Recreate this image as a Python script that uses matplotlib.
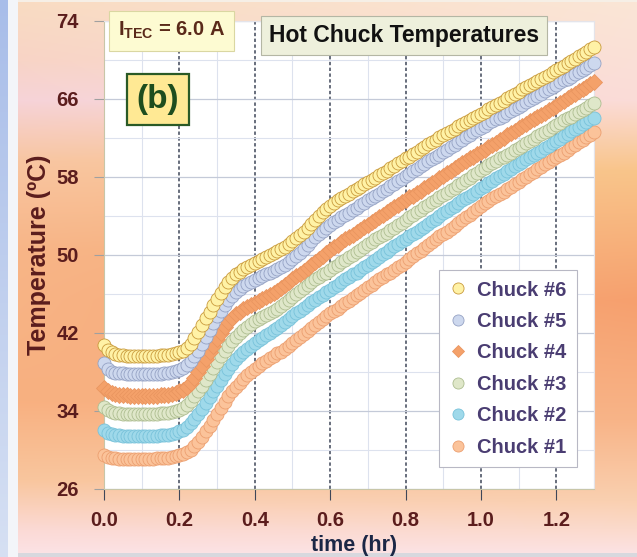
import numpy as np
import matplotlib
matplotlib.use("Agg")
import matplotlib.pyplot as plt
from matplotlib.colors import to_rgb

plt.rcParams['font.family'] = ['Liberation Sans', 'DejaVu Sans']
plt.rcParams['mathtext.fontset'] = 'custom'
plt.rcParams['mathtext.rm'] = 'Liberation Sans:bold'
plt.rcParams['mathtext.bf'] = 'Liberation Sans:bold'

# sample times (hr), one reading every 0.01 hr
time_hr = np.round(np.linspace(0.0, 1.3, 131), 2)

chuck6 = [40.8, 40.3, 40.0, 39.8, 39.7, 39.7, 39.6, 39.6, 39.6, 39.6,
          39.6, 39.6, 39.6, 39.6, 39.6, 39.7, 39.7, 39.7, 39.8, 39.9,
          40.0, 40.2, 40.5, 40.9, 41.5, 42.1, 42.8, 43.5, 44.2, 44.9,
          45.5, 46.1, 46.7, 47.2, 47.6, 48.0, 48.3, 48.6, 48.8, 49.0,
          49.2, 49.4, 49.6, 49.8, 50.0, 50.2, 50.4, 50.6, 50.8, 51.1,
          51.4, 51.7, 52.0, 52.4, 52.8, 53.2, 53.6, 54.0, 54.4, 54.7,
          55.0, 55.3, 55.6, 55.8, 56.1, 56.3, 56.6, 56.8, 57.0, 57.3,
          57.5, 57.7, 57.9, 58.2, 58.4, 58.6, 58.9, 59.1, 59.4, 59.6,
          59.9, 60.1, 60.4, 60.6, 60.9, 61.1, 61.4, 61.6, 61.8, 62.1,
          62.3, 62.5, 62.7, 62.9, 63.2, 63.4, 63.6, 63.8, 64.1, 64.3,
          64.5, 64.7, 65.0, 65.2, 65.4, 65.6, 65.8, 66.1, 66.3, 66.5,
          66.7, 67.0, 67.2, 67.4, 67.6, 67.8, 68.1, 68.3, 68.5, 68.8,
          69.0, 69.2, 69.4, 69.7, 69.9, 70.1, 70.4, 70.6, 70.8, 71.1,
          71.3]

chuck5 = [38.9, 38.3, 38.0, 37.9, 37.9, 37.9, 37.8, 37.8, 37.8, 37.8,
          37.8, 37.8, 37.8, 37.8, 37.8, 37.8, 37.9, 37.9, 38.0, 38.1,
          38.2, 38.4, 38.7, 39.1, 39.6, 40.2, 40.9, 41.6, 42.3, 43.0,
          43.7, 44.3, 44.9, 45.4, 45.8, 46.2, 46.5, 46.8, 47.0, 47.2,
          47.4, 47.6, 47.8, 48.0, 48.2, 48.4, 48.6, 48.8, 49.0, 49.3,
          49.6, 49.9, 50.2, 50.6, 51.0, 51.4, 51.8, 52.2, 52.5, 52.8,
          53.1, 53.4, 53.6, 53.9, 54.1, 54.3, 54.6, 54.8, 55.1, 55.3,
          55.6, 55.8, 56.1, 56.3, 56.6, 56.8, 57.1, 57.3, 57.6, 57.8,
          58.1, 58.3, 58.6, 58.8, 59.1, 59.3, 59.6, 59.8, 60.1, 60.3,
          60.6, 60.8, 61.1, 61.3, 61.6, 61.8, 62.1, 62.3, 62.6, 62.8,
          63.0, 63.2, 63.5, 63.7, 63.9, 64.1, 64.3, 64.6, 64.8, 65.0,
          65.2, 65.4, 65.7, 65.9, 66.1, 66.3, 66.5, 66.8, 67.0, 67.2,
          67.4, 67.7, 67.9, 68.1, 68.3, 68.6, 68.8, 69.0, 69.2, 69.5,
          69.7]

chuck4 = [36.4, 36.0, 35.8, 35.7, 35.6, 35.6, 35.6, 35.5, 35.5, 35.5,
          35.5, 35.5, 35.5, 35.5, 35.5, 35.6, 35.6, 35.6, 35.7, 35.8,
          36.0, 36.2, 36.5, 36.9, 37.4, 38.0, 38.6, 39.3, 40.0, 40.7,
          41.4, 42.0, 42.6, 43.1, 43.5, 43.9, 44.2, 44.5, 44.7, 44.9,
          45.1, 45.3, 45.5, 45.7, 45.9, 46.1, 46.3, 46.6, 46.9, 47.2,
          47.5, 47.8, 48.1, 48.4, 48.7, 49.0, 49.3, 49.6, 49.9, 50.2,
          50.5, 50.8, 51.0, 51.3, 51.6, 51.8, 52.1, 52.4, 52.6, 52.9,
          53.1, 53.4, 53.6, 53.9, 54.1, 54.4, 54.6, 54.9, 55.1, 55.4,
          55.6, 55.9, 56.1, 56.4, 56.6, 56.9, 57.1, 57.4, 57.6, 57.9,
          58.1, 58.4, 58.6, 58.9, 59.1, 59.4, 59.6, 59.9, 60.1, 60.4,
          60.6, 60.8, 61.1, 61.3, 61.5, 61.8, 62.0, 62.3, 62.5, 62.7,
          63.0, 63.2, 63.4, 63.7, 63.9, 64.2, 64.4, 64.6, 64.9, 65.1,
          65.3, 65.6, 65.8, 66.1, 66.3, 66.5, 66.8, 67.0, 67.2, 67.5,
          67.7]

chuck3 = [34.4, 34.1, 33.9, 33.8, 33.8, 33.7, 33.7, 33.7, 33.7, 33.7,
          33.7, 33.7, 33.7, 33.7, 33.7, 33.8, 33.8, 33.8, 33.9, 34.0,
          34.1, 34.3, 34.6, 35.0, 35.5, 36.0, 36.6, 37.2, 37.8, 38.4,
          39.0, 39.6, 40.2, 40.7, 41.2, 41.6, 42.0, 42.3, 42.6, 42.9,
          43.2, 43.4, 43.6, 43.8, 44.0, 44.3, 44.5, 44.8, 45.1, 45.4,
          45.7, 46.0, 46.3, 46.6, 46.9, 47.2, 47.5, 47.7, 48.0, 48.2,
          48.5, 48.8, 49.0, 49.3, 49.5, 49.8, 50.0, 50.3, 50.5, 50.8,
          51.1, 51.3, 51.6, 51.8, 52.1, 52.3, 52.6, 52.8, 53.1, 53.3,
          53.6, 53.9, 54.1, 54.4, 54.6, 54.9, 55.1, 55.4, 55.6, 55.9,
          56.2, 56.4, 56.7, 56.9, 57.2, 57.4, 57.7, 57.9, 58.2, 58.4,
          58.7, 58.9, 59.2, 59.4, 59.6, 59.9, 60.1, 60.3, 60.5, 60.8,
          61.0, 61.2, 61.5, 61.7, 61.9, 62.2, 62.4, 62.6, 62.8, 63.1,
          63.3, 63.5, 63.8, 64.0, 64.2, 64.5, 64.7, 64.9, 65.1, 65.4,
          65.6]

chuck2 = [32.0, 31.7, 31.6, 31.5, 31.5, 31.4, 31.4, 31.4, 31.4, 31.4,
          31.4, 31.4, 31.4, 31.4, 31.4, 31.5, 31.5, 31.5, 31.6, 31.7,
          31.9, 32.1, 32.4, 32.8, 33.2, 33.7, 34.2, 34.8, 35.4, 36.0,
          36.6, 37.2, 37.8, 38.3, 38.8, 39.3, 39.7, 40.1, 40.4, 40.7,
          41.0, 41.3, 41.5, 41.8, 42.0, 42.3, 42.5, 42.8, 43.1, 43.4,
          43.7, 44.0, 44.3, 44.6, 44.9, 45.2, 45.4, 45.7, 45.9, 46.2,
          46.4, 46.7, 46.9, 47.2, 47.5, 47.7, 48.0, 48.2, 48.5, 48.8,
          49.0, 49.3, 49.5, 49.8, 50.1, 50.3, 50.6, 50.9, 51.1, 51.4,
          51.6, 51.9, 52.2, 52.4, 52.7, 52.9, 53.2, 53.5, 53.7, 54.0,
          54.3, 54.5, 54.8, 55.0, 55.3, 55.6, 55.8, 56.1, 56.3, 56.6,
          56.9, 57.1, 57.4, 57.6, 57.9, 58.1, 58.3, 58.6, 58.8, 59.1,
          59.3, 59.5, 59.8, 60.0, 60.3, 60.5, 60.7, 61.0, 61.2, 61.5,
          61.7, 61.9, 62.2, 62.4, 62.7, 62.9, 63.1, 63.4, 63.6, 63.9,
          64.1]

chuck1 = [29.5, 29.3, 29.2, 29.2, 29.1, 29.1, 29.1, 29.1, 29.1, 29.1,
          29.1, 29.1, 29.1, 29.1, 29.2, 29.2, 29.2, 29.2, 29.3, 29.4,
          29.5, 29.6, 29.8, 30.0, 30.4, 30.8, 31.3, 31.9, 32.5, 33.1,
          33.7, 34.3, 34.9, 35.5, 36.0, 36.5, 36.9, 37.3, 37.7, 38.0,
          38.3, 38.6, 38.9, 39.1, 39.4, 39.6, 39.9, 40.1, 40.4, 40.7,
          41.0, 41.3, 41.6, 41.9, 42.2, 42.5, 42.8, 43.1, 43.4, 43.7,
          44.0, 44.3, 44.5, 44.8, 45.1, 45.3, 45.6, 45.9, 46.1, 46.4,
          46.7, 46.9, 47.2, 47.5, 47.7, 48.0, 48.2, 48.5, 48.8, 49.0,
          49.3, 49.6, 49.9, 50.2, 50.4, 50.7, 51.0, 51.3, 51.6, 51.9,
          52.2, 52.4, 52.7, 53.0, 53.3, 53.6, 53.9, 54.1, 54.4, 54.7,
          55.0, 55.3, 55.5, 55.8, 56.0, 56.3, 56.5, 56.8, 57.0, 57.3,
          57.5, 57.8, 58.0, 58.3, 58.5, 58.8, 59.0, 59.3, 59.5, 59.8,
          60.0, 60.3, 60.5, 60.8, 61.1, 61.3, 61.6, 61.8, 62.1, 62.3,
          62.6]

labels = ['Chuck #6', 'Chuck #5', 'Chuck #4', 'Chuck #3', 'Chuck #2', 'Chuck #1']
series = [chuck6, chuck5, chuck4, chuck3, chuck2, chuck1]
face = ['#fff2a6', '#cdd8ee', '#f4a16a', '#dfe7c9', '#9fd9ea', '#fbc39a']
edge = ['#c99a3c', '#95a2c4', '#ea9660', '#adbd90', '#78c2da', '#ec9f70']
marker = ['o', 'o', 'D', 'o', 'o', 'o']
msize = [9.4, 9.4, 8.2, 9.4, 9.4, 9.4]

xticks = [0.0, 0.2, 0.4, 0.6, 0.8, 1.0, 1.2]
yticks = [26, 34, 42, 50, 58, 66, 74]

W, H = 637, 557
fig = plt.figure(figsize=(W / 100, H / 100), dpi=100)


def ramp(stops, n):
    pos = [p for p, c in stops]
    cols = np.array([to_rgb(c) for p, c in stops])
    yy = np.arange(n)
    return np.stack([np.interp(yy, pos, cols[:, k]) for k in range(3)], axis=1)


# warm slide background behind the plot
left_col = ramp([(0, '#f9dcc2'), (60, '#f8d4c6'), (100, '#f6d3d8'), (160, '#f8c6a2'),
                 (250, '#f8b587'), (400, '#f8b080'), (480, '#f9c69e'),
                 (530, '#fbdad6'), (557, '#fce4e8')], H)
right_col = ramp([(0, '#fbe6d6'), (100, '#fbdcd8'), (170, '#f9c58a'), (300, '#f6a06e'),
                  (420, '#f8b488'), (500, '#fad0b0'), (557, '#fce4e8')], H)
bg = np.ones((H, W, 3))
wx = np.clip((np.arange(W) - 18) / (W - 18), 0, 1)
bg[:, :, :] = left_col[:, None, :] * (1 - wx[None, :, None]) + right_col[:, None, :] * wx[None, :, None]
blue = ramp([(0, '#a8bde9'), (557, '#d6e0f3')], H)
bg[:, :8, :] = blue[:, None, :]
bg[:, 8:18, :] = to_rgb('#f3f5f9')
bg[:2, 18:, :] = to_rgb('#f6efe6')
bg[-4:, 18:, :] = to_rgb('#d8d8de')
bax = fig.add_axes([0, 0, 1, 1], zorder=-10)
bax.imshow(bg, aspect='auto', extent=(0, W, H, 0))
bax.axis('off')

ax = fig.add_axes([104 / W, 1 - 489 / H, 490 / W, 468 / H])
ax.set_facecolor('white')

handles = [None] * 6
for s in range(5, -1, -1):
    handles[s], = ax.plot(time_hr, series[s], linestyle='none', marker=marker[s], ms=msize[s],
                          mfc=face[s], mec=edge[s], mew=0.6, label=labels[s],
                          clip_on=False, zorder=3)

ax.set_xlim(0, 1.3)
ax.set_ylim(26, 74)
ax.set_xticks(xticks)
ax.set_xticks(np.round(np.arange(0.1, 1.31, 0.2), 1), minor=True)
ax.set_yticks(yticks)
ax.set_yticks([30, 38, 46, 54, 62, 70], minor=True)
ax.set_xticklabels(['%.1f' % v for v in xticks])
ax.set_yticklabels([str(v) for v in yticks])

ax.grid(which='minor', color='#dde2ee', lw=0.8)
ax.grid(which='major', axis='y', color='#c4cad8', lw=0.9)
ax.grid(which='major', axis='x', color='#3e4658', lw=1.1, ls=(0, (2.2, 1.6)))
ax.xaxis.get_gridlines()[0].set_visible(False)
ax.set_axisbelow(True)

ax.tick_params(axis='y', which='major', length=7, color='#a0a0a0', pad=11,
               labelsize=14.5, labelcolor='#5b1d1d')
ax.tick_params(axis='x', which='major', length=8, color='#3e4658', pad=8,
               labelsize=14.5, labelcolor='#5b1d1d')
ax.tick_params(which='minor', length=0)
for lab in ax.get_xticklabels() + ax.get_yticklabels():
    lab.set_fontweight('bold')

for side in ['left', 'bottom']:
    ax.spines[side].set_color('#c8c6a8')
for side in ['top', 'right']:
    ax.spines[side].set_color('#e4e4ea')

ax.set_xlabel('time (hr)', fontsize=15.5, fontweight='bold', color='#1b2746')
ax.xaxis.set_label_coords(0.51, -0.098)
ax.set_ylabel('Temperature (ºC)', fontsize=18, fontweight='bold', color='#5b1d1d')
ax.yaxis.set_label_coords(-0.108, 0.5)

leg = ax.legend(handles=handles, loc='lower right', bbox_to_anchor=(0.965, 0.047),
                frameon=True, fancybox=False, edgecolor='#b8b8c4', framealpha=1,
                facecolor='white', prop={'size': 14.5, 'weight': 'bold'},
                handlelength=0.9, handletextpad=0.5, labelspacing=0.62,
                borderpad=0.5, borderaxespad=0)
leg.get_frame().set_linewidth(0.8)
for t in leg.get_texts():
    t.set_color('#4a3d72')
for h, m in zip(leg.legend_handles, marker):
    h.set_markersize(6.5 if m == 'D' else 8)

ax.text(0.612, 0.970, 'Hot Chuck Temperatures', transform=ax.transAxes,
        ha='center', va='center', fontsize=16.5, fontweight='bold', color='#111111',
        bbox=dict(boxstyle='square,pad=0.35', fc='#eef0dc', ec='#b4b6a4', lw=0.8), zorder=6)
ax.text(0.137, 0.979, r'I$_{\mathrm{TEC}}$ = 6.0 A', transform=ax.transAxes,
        ha='center', va='center', fontsize=14.5, fontweight='bold', color='#5a2a1a',
        bbox=dict(boxstyle='square,pad=0.45', fc='#fdfbd2', ec='#dad7a2', lw=0.8), zorder=6)
ax.text(0.110, 0.833, '(b)', transform=ax.transAxes,
        ha='center', va='center', fontsize=24, fontweight='bold', color='#1e4d1e',
        bbox=dict(boxstyle='square,pad=0.3', fc='#ffe994', ec='#2a5a26', lw=1.6), zorder=6)

fig.savefig('out.png', dpi=100)
